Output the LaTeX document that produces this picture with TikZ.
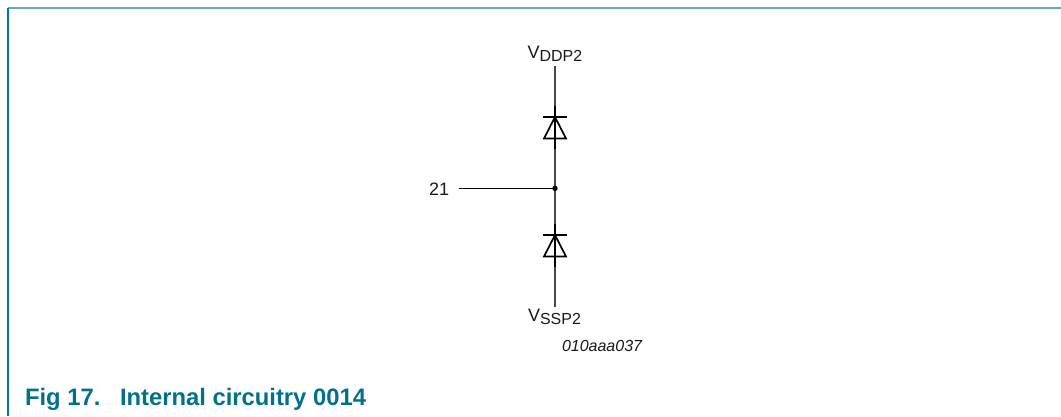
\documentclass[tikz,border=0pt]{standalone}
\usepackage{fontspec}
\setmainfont{Liberation Sans}
\definecolor{frametop}{RGB}{100,172,192}
\definecolor{frameleft}{RGB}{0,125,150}
\definecolor{nxpblue}{RGB}{0,112,140}
\definecolor{wirec}{RGB}{70,70,70}
\definecolor{txt}{RGB}{25,25,25}
\tikzset{
  lbl/.style={inner sep=0pt,outer sep=0pt,anchor=base west,text=txt,font=\fontsize{18}{20}\selectfont},
  caplbl/.style={lbl,text=nxpblue,font=\fontsize{23.8}{26}\selectfont\bfseries},
  wire/.style={draw=wirec,line width=1.4pt},
  dio/.style={draw=black,line width=1.7pt},
}
\newcommand{\subtxt}[1]{\raisebox{-3.3pt}{\fontsize{16}{18}\selectfont #1}}
\begin{document}
\begin{tikzpicture}[x=1pt,y=-1pt]
\useasboundingbox (0,0) rectangle (1061,416);
\coordinate (fa) at (8,416);
\coordinate (fb) at (8,7.5);
\coordinate (fc) at (1061,7.5);
\draw[draw=frametop,line width=2pt] (fb) -- (fc);
\draw[draw=frameleft,line width=1.2pt] (fa) -- (fb);
\node[lbl] (vdd) at (527.5,58) {V\subtxt{DDP2}};
\node[lbl] (vss) at (528,321) {V\subtxt{SSP2}};
\node[lbl] (pin) at (429,195) {21};
\node[lbl,font=\fontsize{16}{18}\selectfont\itshape] (code) at (562,351) {010aaa037};
\node[caplbl] (figno) at (25,405) {Fig 17.};
\node[caplbl] (cap) at (120,405) {Internal circuitry 0014};
\coordinate (top) at (555,66);
\coordinate (j) at (555,188.4);
\coordinate (bot) at (555,307);
\coordinate (left) at (458.5,188.4);
\draw[wire] (top) -- (j) -- (bot);
\draw[draw=black,line width=1pt] (left) -- (j);
\fill[black] (j) circle (2.7);
% upper diode
\coordinate (a1) at (555,106);
\coordinate (a2) at (555,149);
\draw[dio] (a1) -- (a2);
\coordinate (b1l) at (543,117);
\coordinate (b1r) at (567,117);
\draw[dio,line width=2.2pt] (b1l) -- (b1r);
\coordinate (t1l) at (544,138.5);
\coordinate (t1r) at (566,138.5);
\coordinate (t1a) at (555,117);
\draw[dio,line join=miter] (t1a) -- (t1r) -- (t1l) -- cycle;
% lower diode
\coordinate (a3) at (555,224);
\coordinate (a4) at (555,267);
\draw[dio] (a3) -- (a4);
\coordinate (b2l) at (543,235);
\coordinate (b2r) at (567,235);
\draw[dio,line width=2.2pt] (b2l) -- (b2r);
\coordinate (t2l) at (544,256.5);
\coordinate (t2r) at (566,256.5);
\coordinate (t2a) at (555,235);
\draw[dio,line join=miter] (t2a) -- (t2r) -- (t2l) -- cycle;
\end{tikzpicture}
\end{document}
